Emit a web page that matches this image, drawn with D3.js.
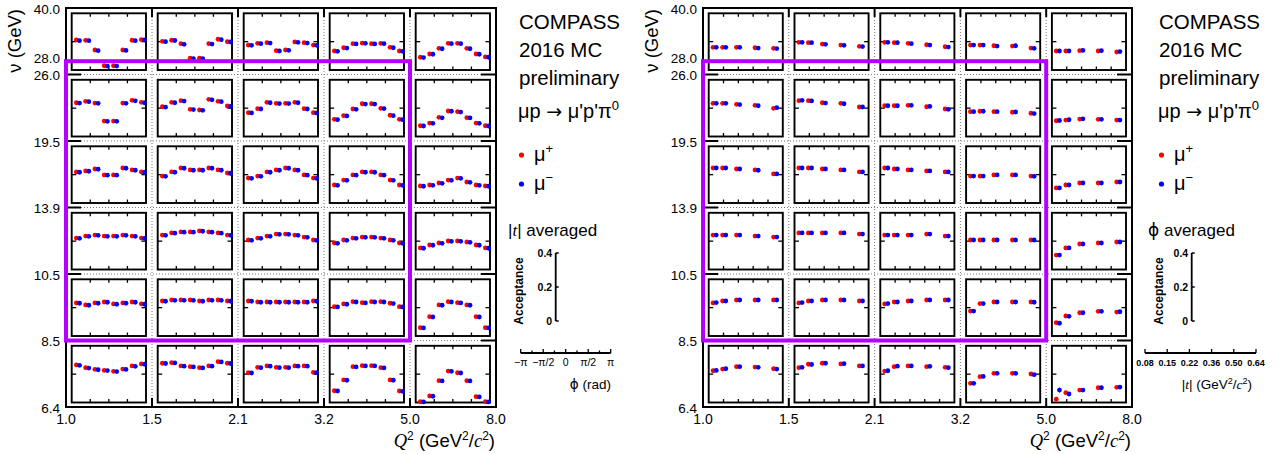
<!DOCTYPE html>
<html><head><meta charset="utf-8">
<script src="https://cdn.jsdelivr.net/npm/d3@7"></script>
<style>
body{margin:0;background:#fff}
svg{display:block}
text{font-family:"Liberation Sans",Arial,Helvetica,sans-serif;fill:#000}
</style>
</head><body>
<svg id="c" width="1285" height="454"></svg>
<script>
// ---------------- data ----------------
const q2Labels = ["1.0","1.5","2.1","3.2","5.0","8.0"];
const nuLabels = ["6.4","8.5","10.5","13.9","19.5","26.0","28.0","40.0"];
const nuLabelPos = [0,1,2,3,4,5,5.26,6];         // in ν-bin units from bottom
const boxQ2 = [0,4];                               // highlighted region, Q² bin units
const boxNu = [1,5.2];                             // highlighted region, ν bin units
const phiTickLabels = ["−π","−π/2","0","π/2","π"];
const tLabels = ["0.08","0.15","0.22","0.36","0.50","0.64"];
const tMean = [0.113,0.185,0.29,0.43,0.57];
const accTicks = [0,0.2,0.4];

// acceptance vs φ (8 bins), [row from top][Q² column][φ bin]
const phiMuPlus = [
 [[0.212,0.209,0.141,0.030,0.030,0.141,0.210,0.214],
  [0.202,0.210,0.186,0.083,0.083,0.186,0.217,0.200],
  [0.176,0.188,0.193,0.136,0.141,0.198,0.193,0.176],
  [0.134,0.157,0.186,0.190,0.186,0.188,0.160,0.134],
  [0.090,0.113,0.153,0.188,0.188,0.153,0.113,0.092]],
 [[0.238,0.248,0.236,0.109,0.109,0.236,0.255,0.241],
  [0.210,0.241,0.253,0.192,0.187,0.262,0.248,0.215],
  [0.168,0.196,0.241,0.234,0.234,0.241,0.196,0.168],
  [0.121,0.147,0.194,0.231,0.231,0.199,0.150,0.121],
  [0.076,0.095,0.135,0.180,0.175,0.133,0.095,0.076]],
 [[0.219,0.226,0.240,0.198,0.198,0.247,0.233,0.219],
  [0.190,0.219,0.247,0.233,0.233,0.247,0.233,0.212],
  [0.176,0.190,0.219,0.233,0.247,0.233,0.198,0.176],
  [0.127,0.162,0.198,0.219,0.219,0.198,0.162,0.127],
  [0.120,0.127,0.141,0.162,0.176,0.148,0.127,0.120]],
 [[0.222,0.236,0.243,0.236,0.236,0.243,0.236,0.222],
  [0.243,0.258,0.265,0.265,0.272,0.265,0.258,0.243],
  [0.208,0.222,0.236,0.250,0.250,0.243,0.229,0.208],
  [0.187,0.208,0.222,0.229,0.229,0.222,0.208,0.187],
  [0.152,0.173,0.187,0.201,0.201,0.194,0.173,0.152]],
 [[0.233,0.219,0.233,0.240,0.226,0.233,0.240,0.226],
  [0.247,0.254,0.254,0.254,0.247,0.254,0.254,0.247],
  [0.247,0.240,0.240,0.240,0.240,0.240,0.240,0.247],
  [0.207,0.226,0.242,0.235,0.242,0.242,0.231,0.207],
  [0.059,0.136,0.219,0.242,0.235,0.219,0.136,0.059]],
 [[0.265,0.246,0.234,0.227,0.220,0.236,0.258,0.272],
  [0.277,0.281,0.258,0.253,0.246,0.258,0.288,0.277],
  [0.210,0.248,0.258,0.248,0.248,0.258,0.258,0.213],
  [0.083,0.159,0.253,0.260,0.260,0.246,0.159,0.081],
  [0.006,0.046,0.154,0.222,0.210,0.154,0.041,0.006]]
];
const phiMuMinus = [
 [[0.207,0.207,0.136,0.028,0.028,0.138,0.207,0.212],
  [0.200,0.208,0.181,0.080,0.080,0.183,0.214,0.198],
  [0.174,0.186,0.190,0.134,0.139,0.195,0.190,0.174],
  [0.132,0.155,0.184,0.188,0.184,0.186,0.157,0.132],
  [0.088,0.111,0.150,0.186,0.186,0.150,0.111,0.090]],
 [[0.236,0.246,0.234,0.107,0.107,0.234,0.252,0.238],
  [0.207,0.238,0.250,0.190,0.185,0.259,0.246,0.212],
  [0.166,0.194,0.238,0.232,0.232,0.238,0.194,0.166],
  [0.119,0.145,0.192,0.229,0.229,0.197,0.147,0.119],
  [0.074,0.093,0.132,0.178,0.172,0.131,0.093,0.074]],
 [[0.217,0.224,0.238,0.196,0.196,0.245,0.231,0.217],
  [0.188,0.217,0.245,0.231,0.231,0.245,0.231,0.210],
  [0.174,0.188,0.217,0.231,0.245,0.231,0.196,0.174],
  [0.125,0.160,0.196,0.217,0.217,0.196,0.160,0.125],
  [0.118,0.125,0.139,0.160,0.174,0.146,0.125,0.118]],
 [[0.220,0.234,0.241,0.234,0.234,0.241,0.234,0.220],
  [0.241,0.256,0.263,0.263,0.270,0.263,0.256,0.241],
  [0.206,0.220,0.234,0.248,0.248,0.241,0.227,0.206],
  [0.185,0.206,0.220,0.227,0.227,0.220,0.206,0.185],
  [0.150,0.171,0.185,0.199,0.199,0.192,0.171,0.150]],
 [[0.231,0.217,0.231,0.238,0.224,0.231,0.238,0.224],
  [0.245,0.252,0.252,0.252,0.245,0.252,0.252,0.245],
  [0.245,0.238,0.238,0.238,0.238,0.238,0.238,0.245],
  [0.205,0.224,0.240,0.233,0.240,0.240,0.229,0.205],
  [0.057,0.134,0.217,0.240,0.233,0.217,0.134,0.057]],
 [[0.262,0.243,0.231,0.225,0.218,0.233,0.255,0.270],
  [0.275,0.279,0.256,0.251,0.244,0.256,0.286,0.275],
  [0.208,0.246,0.256,0.246,0.246,0.256,0.256,0.211],
  [0.081,0.157,0.251,0.258,0.258,0.244,0.157,0.079],
  [0.004,0.044,0.152,0.220,0.208,0.152,0.039,0.004]]
];

// acceptance vs |t| (5 bins), [row from top][Q² column][t bin]
const tMuPlus = [
 [[0.160,0.160,0.160,0.157,0.153],[0.195,0.193,0.183,0.176,0.167],[0.195,0.193,0.188,0.178,0.164],[0.176,0.176,0.171,0.169,0.155],[0.134,0.134,0.136,0.134,0.127]],
 [[0.234,0.234,0.227,0.220,0.199],[0.253,0.253,0.238,0.234,0.208],[0.217,0.217,0.220,0.210,0.194],[0.175,0.178,0.175,0.171,0.164],[0.111,0.116,0.123,0.121,0.116]],
 [[0.247,0.247,0.240,0.233,0.205],[0.247,0.247,0.240,0.233,0.219],[0.247,0.240,0.233,0.226,0.219],[0.190,0.190,0.198,0.198,0.190],[0.106,0.127,0.141,0.141,0.148]],
 [[0.243,0.243,0.243,0.236,0.229],[0.258,0.258,0.258,0.258,0.250],[0.243,0.243,0.243,0.250,0.236],[0.208,0.208,0.208,0.208,0.208],[0.102,0.152,0.180,0.187,0.194]],
 [[0.233,0.247,0.254,0.254,0.254],[0.233,0.247,0.254,0.254,0.247],[0.226,0.240,0.247,0.254,0.254],[0.176,0.229,0.240,0.240,0.240],[0.094,0.141,0.164,0.174,0.169]],
 [[0.224,0.236,0.253,0.250,0.238],[0.246,0.270,0.277,0.272,0.258],[0.222,0.253,0.258,0.253,0.248],[0.135,0.182,0.206,0.206,0.201],[0.023,0.069,0.088,0.104,0.107]]
];
const tMuMinus = [
 [[0.160,0.160,0.160,0.155,0.151],[0.195,0.193,0.181,0.174,0.165],[0.195,0.193,0.186,0.176,0.162],[0.176,0.176,0.169,0.171,0.153],[0.134,0.134,0.138,0.136,0.130]],
 [[0.234,0.234,0.225,0.217,0.203],[0.255,0.251,0.236,0.231,0.208],[0.217,0.217,0.220,0.212,0.192],[0.175,0.178,0.175,0.173,0.162],[0.113,0.118,0.125,0.121,0.116]],
 [[0.247,0.247,0.240,0.231,0.205],[0.247,0.247,0.240,0.233,0.219],[0.247,0.240,0.233,0.226,0.219],[0.190,0.190,0.198,0.198,0.188],[0.106,0.127,0.141,0.141,0.148]],
 [[0.243,0.243,0.243,0.236,0.229],[0.258,0.258,0.258,0.258,0.250],[0.243,0.243,0.243,0.250,0.236],[0.208,0.208,0.208,0.208,0.208],[0.102,0.152,0.180,0.187,0.194]],
 [[0.236,0.247,0.254,0.254,0.254],[0.236,0.247,0.254,0.254,0.247],[0.229,0.240,0.247,0.254,0.254],[0.176,0.229,0.240,0.240,0.238],[0.090,0.139,0.164,0.174,0.171]],
 [[0.226,0.238,0.253,0.248,0.236],[0.248,0.268,0.277,0.274,0.258],[0.224,0.256,0.258,0.255,0.246],[0.135,0.184,0.206,0.206,0.196],[0.088,0.060,0.088,0.104,0.109]]
];
const tMuMinusErr = [{row:5,col:4,bin:0,err:0.035}];

// ---------------- drawing ----------------
const svg = d3.select("#c");
const Y0 = 8, Y1 = 407;
const RED = "#ff0000", BLUE = "#0000ff", BOX = "#b400ff";
const nuPos = d3.scaleLinear().domain([0,6]).range([Y1,Y0]);
const SYM = "'DejaVu Sans','Liberation Sans',sans-serif";

const panels = [
  {x0:66, x1:496, kind:"phi", plus:phiMuPlus, minus:phiMuMinus, errs:[],
   lg:{tx:519, avgX:508, accX:555.7, accLblX:523, axX0:520.7, axX1:610.7, ttlX:611}},
  {x0:703, x1:1132, kind:"t", plus:tMuPlus, minus:tMuMinus, errs:tMuMinusErr,
   lg:{tx:1159, avgX:1148, accX:1191.7, accLblX:1163, axX0:1145, axX1:1256, ttlX:1252}}
];

function supText(sel, parts){
  parts.forEach(p=>{
    const t = sel.append("tspan").text(p[0]);
    const o = p[1]||{};
    if(o.dy!==undefined) t.attr("dy",o.dy);
    if(o.size) t.attr("font-size",o.size);
    if(o.italic) t.attr("font-style","italic");
    if(o.serif) t.attr("font-family","'Liberation Serif','Times New Roman',serif");
    if(o.fam) t.attr("font-family",o.fam);
  });
}

panels.forEach(p=>{
  const g = svg.append("g");
  const colX = d3.scaleLinear().domain([0,5]).range([p.x0,p.x1]);

  // dotted bin boundaries
  d3.range(1,5).forEach(i=>{
    g.append("line").attr("x1",colX(i)).attr("x2",colX(i)).attr("y1",Y0).attr("y2",Y1)
      .attr("stroke","#777").attr("stroke-width",1).attr("stroke-dasharray","1,2");
  });
  d3.range(1,6).forEach(j=>{
    g.append("line").attr("x1",p.x0).attr("x2",p.x1).attr("y1",nuPos(j)).attr("y2",nuPos(j))
      .attr("stroke","#777").attr("stroke-width",1).attr("stroke-dasharray","1,2");
  });

  // mini plots
  for(let r=0;r<6;r++){
    for(let c=0;c<5;c++){
      const top = nuPos(6-r), bot = nuPos(5-r);
      const fx0 = colX(c)+5.7, fx1 = colX(c+1)-6, fy0 = top+5.3, fy1 = bot-4.5;
      const xs = p.kind==="phi" ? d3.scaleLinear().domain([-Math.PI,Math.PI]).range([fx0,fx1])
                                : d3.scaleLinear().domain([0.08,0.64]).range([fx0,fx1]);
      const ys = d3.scaleLinear().domain([0,0.4]).range([fy1,fy0]);
      const m = g.append("g");
      m.append("rect").attr("x",fx0).attr("y",fy0).attr("width",fx1-fx0).attr("height",fy1-fy0)
        .attr("fill","none").attr("stroke","#000").attr("stroke-width",1.9);
      const xt = p.kind==="phi" ? [-Math.PI/2,0,Math.PI/2] : d3.range(1,5).map(k=>0.08+k*0.112);
      xt.forEach(v=>{
        m.append("line").attr("x1",xs(v)).attr("x2",xs(v)).attr("y1",fy0).attr("y2",fy0+3.5).attr("stroke","#000").attr("stroke-width",1.3);
        m.append("line").attr("x1",xs(v)).attr("x2",xs(v)).attr("y1",fy1).attr("y2",fy1-3.5).attr("stroke","#000").attr("stroke-width",1.3);
      });
      m.append("line").attr("x1",fx0).attr("x2",fx0+4.5).attr("y1",ys(0.2)).attr("y2",ys(0.2)).attr("stroke","#000").attr("stroke-width",1.3);
      m.append("line").attr("x1",fx1).attr("x2",fx1-4.5).attr("y1",ys(0.2)).attr("y2",ys(0.2)).attr("stroke","#000").attr("stroke-width",1.3);

      const xv = i => p.kind==="phi" ? xs(-Math.PI + (i+0.5)*Math.PI/4) : xs(tMean[i]);
      const plusVals = p.plus[r][c], minusVals = p.minus[r][c];
      p.errs.filter(e=>e.row===r&&e.col===c).forEach(e=>{
        m.append("line").attr("x1",xv(e.bin)+3.2).attr("x2",xv(e.bin)+3.2)
          .attr("y1",ys(minusVals[e.bin]-e.err/2)).attr("y2",ys(minusVals[e.bin]+e.err/2))
          .attr("stroke",BLUE).attr("stroke-width",1);
      });
      m.selectAll("circle.p").data(plusVals).join("circle").attr("class","p")
        .attr("cx",(d,i)=>xv(i)).attr("cy",d=>ys(d)).attr("r",2.4).attr("fill",RED);
      m.selectAll("circle.m").data(minusVals).join("circle").attr("class","m")
        .attr("cx",(d,i)=>xv(i)+3.2).attr("cy",d=>ys(d)).attr("r",2.4).attr("fill",BLUE);
    }
  }

  // outer frame
  g.append("rect").attr("x",p.x0).attr("y",Y0).attr("width",p.x1-p.x0).attr("height",Y1-Y0)
    .attr("fill","none").attr("stroke","#000").attr("stroke-width",2);
  d3.range(1,6).forEach(j=>{
    g.append("line").attr("x1",p.x0).attr("x2",p.x0+15).attr("y1",nuPos(j)).attr("y2",nuPos(j)).attr("stroke","#000").attr("stroke-width",2);
    g.append("line").attr("x1",p.x1).attr("x2",p.x1-15).attr("y1",nuPos(j)).attr("y2",nuPos(j)).attr("stroke","#000").attr("stroke-width",2);
  });
  d3.range(1,5).forEach(i=>{
    g.append("line").attr("x1",colX(i)).attr("x2",colX(i)).attr("y1",Y0).attr("y2",Y0+9).attr("stroke","#000").attr("stroke-width",2);
    g.append("line").attr("x1",colX(i)).attr("x2",colX(i)).attr("y1",Y1).attr("y2",Y1-9).attr("stroke","#000").attr("stroke-width",2);
  });

  // axis labels
  nuLabels.forEach((l,i)=>{
    g.append("text").attr("x",p.x0-6).attr("y",nuPos(nuLabelPos[i])+5.5).attr("text-anchor","end")
      .attr("font-size",13.5).text(l);
  });
  q2Labels.forEach((l,i)=>{
    g.append("text").attr("x",colX(i)).attr("y",424).attr("text-anchor","middle").attr("font-size",14).text(l);
  });
  const xt = g.append("text").attr("x",p.x1-1).attr("y",447).attr("text-anchor","end").attr("font-size",18.5);
  supText(xt,[["Q",{italic:1,serif:1}],["2",{dy:-7,size:12}],[" (GeV",{dy:7}],["2",{dy:-7,size:12}],["/",{dy:7}],["c",{italic:1,serif:1}],["2",{dy:-7,size:12}],[")",{dy:7}]]);
  g.append("text").attr("transform",`translate(${p.x0-45},9) rotate(-90)`).attr("text-anchor","end")
    .attr("font-size",18.5).text("ν (GeV)");

  // highlight box
  g.append("rect").attr("x",colX(boxQ2[0])).attr("y",nuPos(boxNu[1]))
    .attr("width",colX(boxQ2[1])-colX(boxQ2[0])).attr("height",nuPos(boxNu[0])-nuPos(boxNu[1]))
    .attr("fill","none").attr("stroke",BOX).attr("stroke-width",4);

  // side panel
  const L = p.lg;
  ["COMPASS","2016 MC","preliminary"].forEach((s,i)=>{
    g.append("text").attr("x",L.tx).attr("y",29+28*i).attr("font-size",20.5).text(s);
  });
  const rx = g.append("text").attr("x",L.tx-1).attr("y",118).attr("font-size",20);
  supText(rx,[["μp "],["→",{fam:SYM,size:19}],[" μ'p'π"],["0",{dy:-8,size:13}]]);
  [[RED,"+",155],[BLUE,"−",184]].forEach(d=>{
    g.append("circle").attr("cx",L.tx+2.5).attr("cy",d[2]).attr("r",2.6).attr("fill",d[0]);
    const t = g.append("text").attr("x",L.tx+15).attr("y",d[2]+6).attr("font-size",20);
    supText(t,[["μ"],[d[1],{dy:-8,size:13}]]);
  });
  const av = g.append("text").attr("x",L.avgX).attr("y",236).attr("font-size",17);
  if(p.kind==="phi") supText(av,[["|"],["t",{italic:1,serif:1}],["| averaged"]]);
  else supText(av,[["ϕ",{fam:SYM}],[" averaged"]]);

  // acceptance mini-axis
  const ay = d3.scaleLinear().domain([0,0.4]).range([321,253]);
  g.append("line").attr("x1",L.accX).attr("x2",L.accX).attr("y1",ay(0)).attr("y2",ay(0.4)).attr("stroke","#000").attr("stroke-width",1.8);
  accTicks.forEach(v=>{
    g.append("line").attr("x1",L.accX).attr("x2",L.accX+3).attr("y1",ay(v)).attr("y2",ay(v)).attr("stroke","#000").attr("stroke-width",1.5);
    g.append("text").attr("x",L.accX-3.5).attr("y",ay(v)+3.5).attr("text-anchor","end")
      .attr("font-size",10.5).attr("font-weight","bold").text(v===0?"0":v.toFixed(1));
  });
  g.append("text").attr("transform",`translate(${L.accLblX},${ay(0.2)+4}) rotate(-90)`).attr("text-anchor","middle")
    .attr("font-size",12).attr("font-weight","bold").text("Acceptance");

  // horizontal legend axis
  const axY = 353;
  g.append("line").attr("x1",L.axX0).attr("x2",L.axX1).attr("y1",axY).attr("y2",axY).attr("stroke","#000").attr("stroke-width",1.8);
  if(p.kind==="phi"){
    const ax = d3.scaleLinear().domain([-Math.PI,Math.PI]).range([L.axX0,L.axX1]);
    d3.range(9).forEach(k=>{
      const v = -Math.PI + k*Math.PI/4;
      g.append("line").attr("x1",ax(v)).attr("x2",ax(v)).attr("y1",axY).attr("y2",axY-(k%2?2.5:4)).attr("stroke","#000").attr("stroke-width",1.3);
    });
    phiTickLabels.forEach((l,k)=>{
      g.append("text").attr("x",ax(-Math.PI+k*Math.PI/2)).attr("y",366).attr("text-anchor","middle").attr("font-size",10.5).text(l);
    });
    const pt = g.append("text").attr("x",L.ttlX).attr("y",389).attr("text-anchor","end").attr("font-size",13.5);
    supText(pt,[["ϕ",{fam:SYM}],[" (rad)"]]);
  } else {
    const ax = d3.scaleLinear().domain([0,tLabels.length-1]).range([L.axX0,L.axX1]);
    tLabels.forEach((l,k)=>{
      g.append("line").attr("x1",ax(k)).attr("x2",ax(k)).attr("y1",axY).attr("y2",axY-4).attr("stroke","#000").attr("stroke-width",1.3);
      g.append("text").attr("x",ax(k)).attr("y",366).attr("text-anchor","middle").attr("font-size",9).attr("font-weight","bold").text(l);
    });
    const tt = g.append("text").attr("x",L.ttlX).attr("y",389).attr("text-anchor","end").attr("font-size",13.5);
    supText(tt,[["|"],["t",{italic:1,serif:1}],["| (GeV"],["2",{dy:-5,size:9}],["/",{dy:5}],["c",{italic:1,serif:1}],["2",{dy:-5,size:9}],[")",{dy:5}]]);
  }
});
</script>
</body></html>
